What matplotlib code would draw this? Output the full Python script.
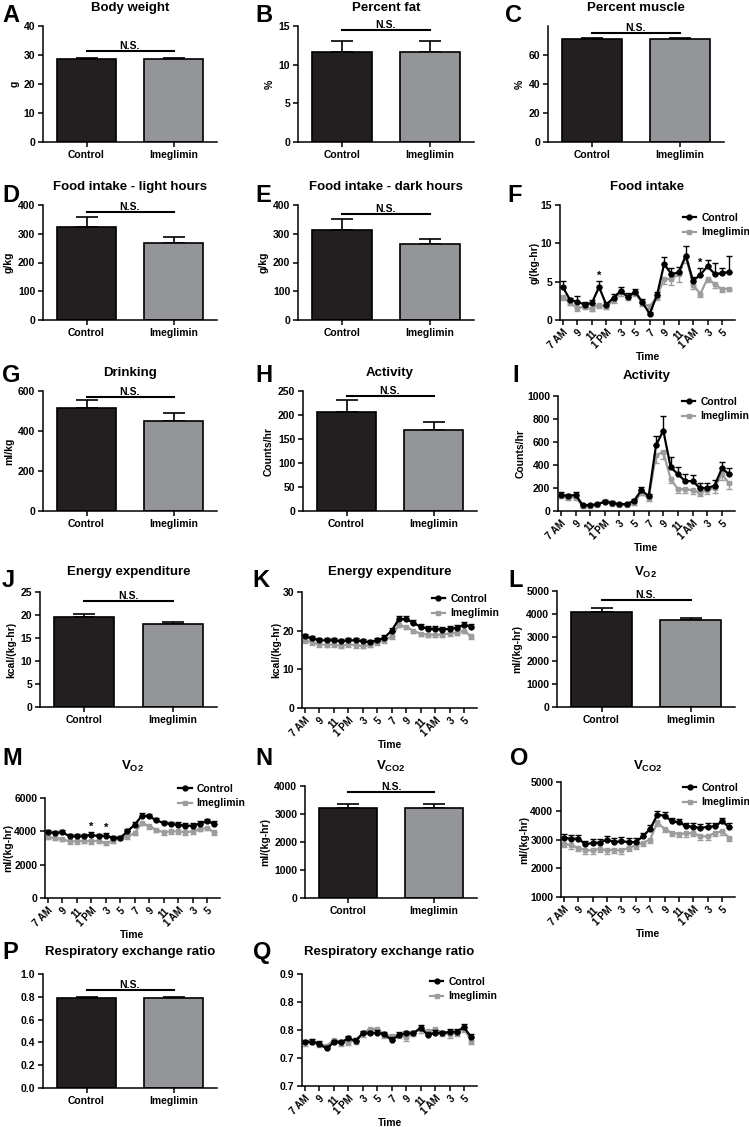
import numpy as np
import matplotlib
matplotlib.use('Agg')
import matplotlib.pyplot as plt
from matplotlib.lines import Line2D

# ---- data ----
groups = ['Control', 'Imeglimin']
time_labels = ['7 AM', '9', '11', '1 PM', '3', '5', '7', '9', '11', '1 AM', '3', '5']

body_weight = [28.7, 28.7]
body_weight_err = [0.4, 0.4]
pct_fat = [11.7, 11.7]
pct_fat_err = [1.4, 1.4]
pct_muscle = [71.0, 71.0]
pct_muscle_err = [1.0, 0.8]
food_light = [322, 268]
food_light_err = [38, 20]
food_dark = [313, 263]
food_dark_err = [38, 20]
drinking = [515, 450]
drinking_err = [42, 42]
activity = [206, 168]
activity_err = [25, 18]
energy = [19.6, 18.0]
energy_err = [0.7, 0.5]
vo2 = [4100, 3750]
vo2_err = [150, 100]
vco2 = [3230, 3230]
vco2_err = [120, 120]
rer = [0.79, 0.79]
rer_err = [0.005, 0.005]

food_ctrl = [4.3, 2.6, 2.4, 2.0, 2.2, 4.3, 2.0, 2.9, 3.8, 3.0, 3.7, 2.3, 0.8, 3.2, 7.3, 6.0, 6.2, 8.4, 5.1, 5.9, 7.0, 6.0, 6.1, 6.3]
food_ctrl_err = [0.8, 0.3, 0.7, 0.3, 0.4, 0.8, 0.3, 0.5, 0.5, 0.5, 0.4, 0.5, 0.3, 0.4, 0.9, 0.8, 0.7, 1.3, 0.5, 0.9, 0.8, 1.4, 0.7, 2.0]
food_imeg = [3.0, 2.2, 1.6, 1.7, 1.5, 2.0, 1.7, 2.6, 3.6, 3.0, 3.5, 2.2, 1.8, 3.0, 5.4, 5.3, 6.0, 8.3, 4.6, 3.4, 5.4, 4.7, 4.0, 4.1]
food_imeg_err = [0.4, 0.3, 0.4, 0.3, 0.3, 0.4, 0.3, 0.4, 0.5, 0.4, 0.4, 0.4, 0.3, 0.4, 0.7, 0.7, 1.0, 0.8, 0.5, 0.4, 0.5, 0.5, 0.4, 0.3]

act_ctrl = [140, 130, 140, 50, 50, 60, 80, 70, 60, 60, 90, 180, 130, 570, 700, 380, 320, 260, 260, 200, 200, 220, 370, 320]
act_ctrl_err = [25, 20, 25, 10, 10, 10, 20, 15, 10, 10, 15, 25, 20, 80, 130, 90, 60, 60, 50, 40, 40, 50, 60, 50]
act_imeg = [130, 110, 120, 40, 40, 50, 90, 60, 50, 50, 70, 160, 110, 490, 510, 280, 190, 190, 180, 160, 180, 200, 320, 240]
act_imeg_err = [20, 15, 20, 10, 10, 10, 15, 10, 10, 10, 15, 20, 20, 70, 60, 40, 30, 30, 30, 30, 30, 40, 50, 50]

ee_ctrl = [18.5, 18.0, 17.5, 17.5, 17.5, 17.2, 17.5, 17.5, 17.2, 17.0, 17.5, 18.2, 20.0, 23.0, 23.0, 22.0, 21.0, 20.5, 20.5, 20.3, 20.5, 20.7, 21.5, 21.0]
ee_ctrl_err = [0.7] * 24
ee_imeg = [17.5, 17.0, 16.5, 16.3, 16.5, 16.0, 16.5, 16.2, 16.0, 16.3, 17.0, 17.5, 18.5, 21.5, 21.0, 20.0, 19.2, 19.0, 19.0, 19.0, 19.3, 19.5, 20.0, 18.5]
ee_imeg_err = [0.6] * 24

vo2_ctrl = [3940, 3900, 3940, 3700, 3700, 3700, 3800, 3700, 3740, 3600, 3600, 4000, 4400, 4940, 4900, 4660, 4500, 4440, 4400, 4340, 4340, 4460, 4600, 4460]
vo2_ctrl_err = [150] * 24
vo2_imeg = [3660, 3600, 3540, 3400, 3400, 3440, 3400, 3440, 3300, 3440, 3600, 3700, 3900, 4500, 4300, 4100, 3940, 4000, 4000, 3940, 4000, 4140, 4200, 3940]
vo2_imeg_err = [130] * 24

vco2_ctrl = [3060, 3030, 3030, 2830, 2890, 2890, 3000, 2910, 2940, 2910, 2910, 3110, 3370, 3860, 3830, 3630, 3600, 3460, 3440, 3400, 3440, 3460, 3630, 3430]
vco2_ctrl_err = [130] * 24
vco2_imeg = [2850, 2800, 2710, 2630, 2620, 2680, 2620, 2650, 2620, 2710, 2790, 2890, 3000, 3600, 3370, 3230, 3200, 3210, 3230, 3110, 3110, 3230, 3290, 3060]
vco2_imeg_err = [120] * 24

rer_ctrl = [0.778, 0.779, 0.775, 0.767, 0.778, 0.778, 0.785, 0.781, 0.794, 0.794, 0.795, 0.792, 0.782, 0.791, 0.794, 0.794, 0.804, 0.791, 0.795, 0.794, 0.797, 0.797, 0.805, 0.787]
rer_ctrl_err = [0.005] * 24
rer_imeg = [0.778, 0.781, 0.775, 0.772, 0.782, 0.777, 0.779, 0.781, 0.794, 0.802, 0.802, 0.791, 0.790, 0.791, 0.787, 0.795, 0.801, 0.798, 0.801, 0.795, 0.792, 0.795, 0.802, 0.781]
rer_imeg_err = [0.006] * 24

# ---- style ----
plt.rcParams['font.family'] = ['Liberation Sans', 'DejaVu Sans']
plt.rcParams['font.weight'] = 'bold'
plt.rcParams['mathtext.fontset'] = 'custom'
plt.rcParams['mathtext.rm'] = 'Liberation Sans:bold'
plt.rcParams['mathtext.it'] = 'Liberation Sans:bold'
plt.rcParams['mathtext.bf'] = 'Liberation Sans:bold'
plt.rcParams['axes.linewidth'] = 1.1

BLACK = '#231f20'
GRAY = '#939598'
LINE_GRAY = '#9d9d9d'
W, H = 749, 1127

fig = plt.figure(figsize=(W / 100, H / 100), dpi=100)


def place(l, t, r, b):
    return fig.add_axes([l / W, 1 - b / H, (r - l) / W, (b - t) / H])


def decorate(ax, box, letter, letter_x, letter_y, title, title_y):
    ax.spines['top'].set_visible(False)
    ax.spines['right'].set_visible(False)
    ax.tick_params(direction='out', length=3.5, width=1.1, labelsize=7.5, pad=2)
    fig.text(letter_x / W, 1 - letter_y / H, letter, fontsize=17,
             fontweight='bold', ha='left', va='top')
    fig.text((box[0] + box[2]) / 2 / W, 1 - title_y / H, title,
             fontsize=9.5, fontweight='bold', ha='center', va='center')


def bar_panel(box, letter, letter_x, letter_y, title, title_y,
              vals, errs, ylim, yticks, ylabel, ns_y):
    ax = place(*box)
    x = np.arange(len(vals))
    ax.bar(x, vals, width=0.68, color=[BLACK, GRAY], edgecolor='black',
           linewidth=1.2, zorder=2)
    ax.errorbar(x, vals, yerr=[np.zeros(len(vals)), errs], fmt='none',
                ecolor='black', elinewidth=1.2, capsize=8, capthick=1.2, zorder=1)
    ax.plot([0, 1], [ns_y, ns_y], color='black', lw=1.5)
    ax.text(0.5, ns_y, 'N.S.', ha='center', va='bottom', fontsize=7.5, fontweight='bold')
    ax.set_xlim(-0.5, 1.5)
    ax.set_ylim(*ylim)
    ax.set_yticks(yticks)
    ax.set_xticks(x)
    ax.set_xticklabels(groups)
    ax.set_ylabel(ylabel, fontsize=7.5, fontweight='bold', labelpad=3)
    decorate(ax, box, letter, letter_x, letter_y, title, title_y)
    return ax


def time_panel(box, letter, letter_x, letter_y, title, title_y,
               ctrl, ctrl_err, imeg, imeg_err, ylim, yticks, ylabel,
               leg_x, leg_dy, stars=(), yticklabels=None):
    ax = place(*box)
    x = np.arange(len(ctrl))
    ax.errorbar(x, imeg, yerr=[imeg_err, np.zeros(len(x))], fmt='none',
                ecolor=LINE_GRAY, elinewidth=1, capsize=2, capthick=1)
    ax.plot(x, imeg, color=LINE_GRAY, marker='s', ms=3.5, lw=1.6)
    ax.errorbar(x, ctrl, yerr=[np.zeros(len(x)), ctrl_err], fmt='none',
                ecolor='black', elinewidth=1, capsize=2, capthick=1)
    ax.plot(x, ctrl, color='black', marker='o', ms=3.5, lw=1.6)
    for i in stars:
        ax.text(i, ctrl[i] + ctrl_err[i], '*', ha='center', va='bottom',
                fontsize=8, fontweight='bold')
    ax.set_xlim(-0.4, 23.8)
    ax.set_ylim(*ylim)
    ax.set_yticks(yticks)
    if yticklabels is not None:
        ax.set_yticklabels(yticklabels)
    ax.set_xticks(np.arange(0, 24, 2))
    ax.set_xticklabels(time_labels, rotation=45, ha='right', rotation_mode='anchor')
    ax.set_xlabel('Time', fontsize=7.5, fontweight='bold', labelpad=1)
    if ylabel:
        ax.set_ylabel(ylabel, fontsize=7.5, fontweight='bold', labelpad=1)
    handles = [Line2D([], [], color='black', marker='o', ms=3.5, lw=1.6),
               Line2D([], [], color=LINE_GRAY, marker='s', ms=3.5, lw=1.6)]
    h = box[3] - box[1]
    ax.legend(handles, groups, loc='upper left', bbox_to_anchor=(leg_x, 1 - leg_dy / h),
              frameon=False, prop={'size': 7.5, 'weight': 'bold'}, handlelength=1.3,
              handletextpad=0.5, borderpad=0, borderaxespad=0, labelspacing=0.4)
    decorate(ax, box, letter, letter_x, letter_y, title, title_y)
    ax.tick_params(axis='x', labelsize=7)
    return ax


# row 1
bar_panel((43, 26, 217, 142), 'A', 2, 4, 'Body weight', 8,
          body_weight, body_weight_err, (0, 40), range(0, 41, 10), 'g', 31.5)
bar_panel((298, 26, 474, 142), 'B', 255, 4, 'Percent fat', 8,
          pct_fat, pct_fat_err, (0, 15), range(0, 16, 5), '%', 14.5)
bar_panel((548, 26, 724, 142), 'C', 505, 4, 'Percent muscle', 8,
          pct_muscle, pct_muscle_err, (0, 80), range(0, 61, 20), '%', 75)

# row 2
bar_panel((43, 205, 217, 320), 'D', 2, 184, 'Food intake - light hours', 187,
          food_light, food_light_err, (0, 400), range(0, 401, 100), 'g/kg', 375)
bar_panel((298, 205, 474, 320), 'E', 255, 184, 'Food intake - dark hours', 187,
          food_dark, food_dark_err, (0, 400), range(0, 401, 100), 'g/kg', 370)
time_panel((560, 205, 735, 320), 'F', 507, 184, 'Food intake', 187,
           food_ctrl, food_ctrl_err, food_imeg, food_imeg_err,
           (0, 15), range(0, 16, 5), 'g/(kg-hr)', 0.70, 8, stars=(5, 19))

# row 3
bar_panel((43, 391, 217, 511), 'G', 2, 364, 'Drinking', 373,
          drinking, drinking_err, (0, 600), range(0, 601, 200), 'ml/kg', 570)
bar_panel((303, 391, 477, 511), 'H', 255, 364, 'Activity', 373,
          activity, activity_err, (0, 250), range(0, 251, 50), 'Counts/hr', 240)
time_panel((558, 396, 735, 511), 'I', 512, 364, 'Activity', 376,
           act_ctrl, act_ctrl_err, act_imeg, act_imeg_err,
           (0, 1000), range(0, 1001, 200), 'Counts/hr', 0.70, 1)

# row 4
bar_panel((40, 592, 217, 707), 'J', 2, 569, 'Energy expenditure', 572,
          energy, energy_err, (0, 25), range(0, 26, 5), 'kcal/(kg-hr)', 23)
time_panel((302, 592, 477, 708), 'K', 252, 569, 'Energy expenditure', 572,
           ee_ctrl, ee_ctrl_err, ee_imeg, ee_imeg_err,
           (0, 30), range(0, 31, 10), 'kcal/(kg-hr)', 0.74, 2)
bar_panel((557, 591, 735, 707), 'L', 508, 569, 'V$_{O2}$', 572,
          vo2, vo2_err, (0, 5000), range(0, 5001, 1000), 'ml/(kg-hr)', 4600)

# row 5
time_panel((45, 798, 220, 898), 'M', 2, 747, 'V$_{O2}$', 766,
           vo2_ctrl, vo2_ctrl_err, vo2_imeg, vo2_imeg_err,
           (0, 6000), range(0, 6001, 2000), 'ml/(kg-hr)', 0.76, -14, stars=(6, 8))
bar_panel((305, 786, 477, 898), 'N', 255, 747, 'V$_{CO2}$', 766,
          vco2, vco2_err, (0, 4000), range(0, 4001, 1000), 'ml/(kg-hr)', 3780)
time_panel((561, 782, 735, 897), 'O', 510, 747, 'V$_{CO2}$', 766,
           vco2_ctrl, vco2_ctrl_err, vco2_imeg, vco2_imeg_err,
           (1000, 5000), range(1000, 5001, 1000), 'ml/(kg-hr)', 0.70, 1)

# row 6
bar_panel((43, 974, 217, 1088), 'P', 2, 941, 'Respiratory exchange ratio', 952,
          rer, rer_err, (0, 1.0), np.arange(0, 1.01, 0.2), '', 0.86)
time_panel((302, 974, 477, 1086), 'Q', 253, 941, 'Respiratory exchange ratio', 952,
           rer_ctrl, rer_ctrl_err, rer_imeg, rer_imeg_err,
           (0.7, 0.9), [0.7, 0.75, 0.8, 0.85, 0.9], '', 0.73, 3,
           yticklabels=['0.7', '0.7', '0.8', '0.8', '0.9'])

fig.savefig('out.png', dpi=100)
